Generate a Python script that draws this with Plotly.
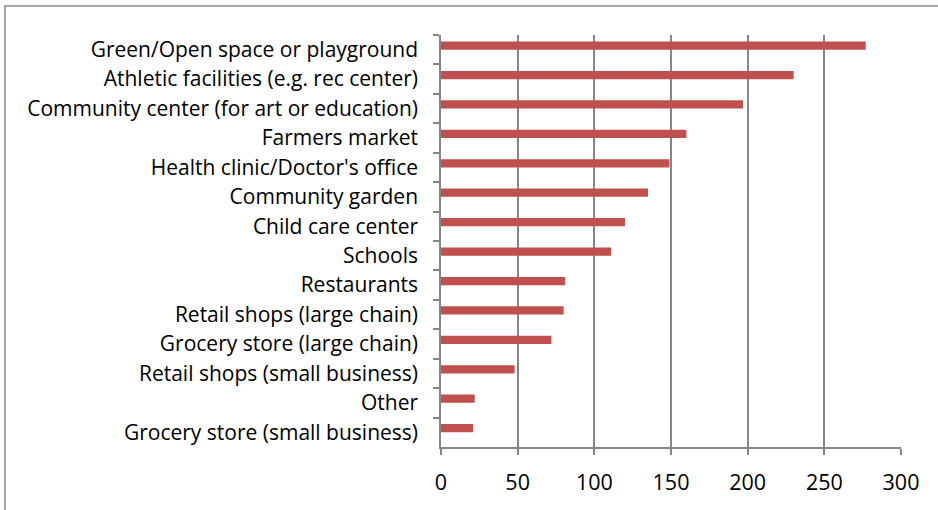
import plotly.graph_objects as go

# Amenities ranked by number of responses (top to bottom)
categories = [
    "Green/Open space or playground",
    "Athletic facilities (e.g. rec center)",
    "Community center (for art or education)",
    "Farmers market",
    "Health clinic/Doctor's office",
    "Community garden",
    "Child care center",
    "Schools",
    "Restaurants",
    "Retail shops (large chain)",
    "Grocery store (large chain)",
    "Retail shops (small business)",
    "Other",
    "Grocery store (small business)",
]
responses = [277, 230, 197, 160, 149, 135, 120, 111, 81, 80, 72, 48, 22, 21]
x_ticks = [0, 50, 100, 150, 200, 250, 300]

GRID = "#868686"
BAR = "#C0504D"
FONT = "Open Sans"

fig = go.Figure(
    go.Bar(
        x=responses,
        y=categories,
        orientation="h",
        marker=dict(color=BAR, line=dict(width=0)),
        width=0.28,
        offset=-0.28,
        hoverinfo="x+y",
    )
)

fig.update_layout(
    width=938,
    height=510,
    margin=dict(l=441, r=37, t=35, b=63),
    paper_bgcolor="white",
    plot_bgcolor="white",
    showlegend=False,
    font=dict(family=FONT, size=20, color="#000000"),
    shapes=[
        # outer chart frame
        dict(
            type="rect",
            xref="paper",
            yref="paper",
            x0=(5 - 441) / 460,
            x1=2,
            y0=-1,
            y1=(447 - 6) / 412,
            line=dict(color="#8a8a8a", width=1.5),
            fillcolor="rgba(0,0,0,0)",
            layer="below",
        )
    ],
)

fig.update_xaxes(
    range=[0, 300],
    tickvals=x_ticks,
    ticktext=[str(v) for v in x_ticks],
    showgrid=True,
    gridcolor=GRID,
    gridwidth=1.5,
    zeroline=False,
    showline=True,
    linecolor=GRID,
    linewidth=1.5,
    ticks="outside",
    ticklen=6,
    tickwidth=1.5,
    tickcolor=GRID,
    ticklabelstandoff=9,
    tickfont=dict(family=FONT, size=21.5, color="#000000"),
)

fig.update_yaxes(
    type="category",
    categoryorder="array",
    categoryarray=categories,
    range=[len(categories) - 0.5, -0.5],
    showgrid=False,
    zeroline=False,
    showline=True,
    linecolor=GRID,
    linewidth=1.5,
    ticks="outside",
    tickson="boundaries",
    ticklen=6,
    tickwidth=1.5,
    tickcolor=GRID,
    ticklabelstandoff=17,
    tickfont=dict(family=FONT, size=21, color="#000000"),
)

fig.write_html("out.html")
